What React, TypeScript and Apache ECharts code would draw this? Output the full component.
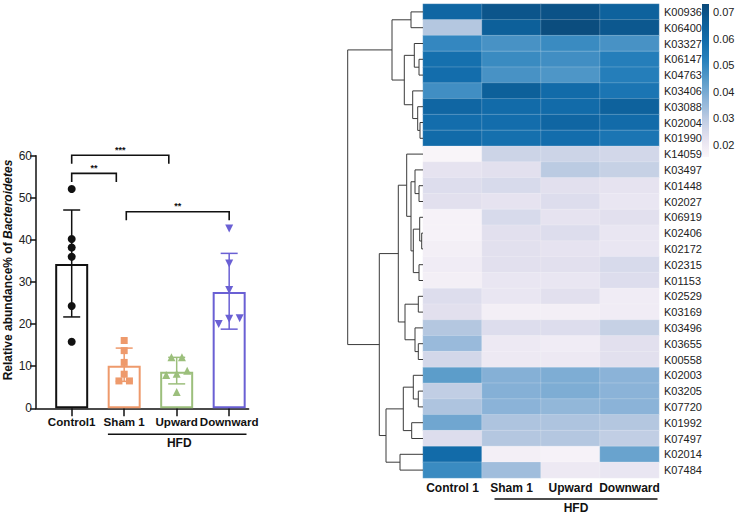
import React, { useEffect, useRef } from 'react';
import * as echarts from 'echarts';

// ---------- Left panel: bar chart ----------
const barGroups = ['Control1', 'Sham 1', 'Upward', 'Downward'];
const barMeans = [34.3, 10.1, 8.7, 27.6];
const errLow = [21.7, 6.4, 5.8, 18.8];
const errHigh = [47.1, 14.3, 12.1, 36.8];
const controlPoints = [52.1, 40.2, 38.2, 36.0, 24.3, 15.8];
const shamPoints = [16.1, 13.7, 10.9, 8.1, 6.5, 6.5];
const upwardPoints = [12.1, 12.1, 8.9, 8.2, 7.9, 3.9];
const downwardPoints = [42.7, 34.4, 28.1, 21.4, 21.3, 20.0];
const brackets = [
  { from: 0, to: 2, y: 60.1, label: '***' },
  { from: 0, to: 1, y: 55.8, label: '**' },
  { from: 1, to: 3, y: 46.7, label: '**' },
];

// ---------- Right panel: heatmap ----------
const heatCols = ['Control 1', 'Sham 1', 'Upward', 'Downward'];
const heatRows = [
  'K00936', 'K06400', 'K03327', 'K06147', 'K04763', 'K03406', 'K03088', 'K02004', 'K01990', 'K14059',
  'K03497', 'K01448', 'K02027', 'K06919', 'K02406', 'K02172', 'K02315', 'K01153', 'K02529', 'K03169',
  'K03496', 'K03655', 'K00558', 'K02003', 'K03205', 'K07720', 'K01992', 'K07497', 'K02014', 'K07484',
];
const heatControl = [
  0.062, 0.031, 0.050, 0.058, 0.059, 0.048, 0.062, 0.059, 0.060, 0.016,
  0.022, 0.024, 0.023, 0.017, 0.017, 0.018, 0.019, 0.018, 0.024, 0.023,
  0.031, 0.035, 0.026, 0.044, 0.029, 0.032, 0.041, 0.024, 0.060, 0.049,
];
const heatSham = [
  0.069, 0.065, 0.047, 0.049, 0.047, 0.065, 0.060, 0.059, 0.058, 0.027,
  0.023, 0.025, 0.022, 0.025, 0.023, 0.023, 0.023, 0.021, 0.021, 0.018,
  0.024, 0.020, 0.020, 0.038, 0.038, 0.037, 0.032, 0.031, 0.018, 0.034,
];
const heatUpward = [
  0.070, 0.072, 0.049, 0.048, 0.046, 0.060, 0.060, 0.062, 0.059, 0.027,
  0.030, 0.023, 0.024, 0.022, 0.024, 0.022, 0.023, 0.021, 0.023, 0.018,
  0.024, 0.019, 0.020, 0.039, 0.039, 0.036, 0.032, 0.031, 0.017, 0.020,
];
const heatDownward = [
  0.064, 0.068, 0.047, 0.053, 0.053, 0.056, 0.064, 0.060, 0.056, 0.026,
  0.028, 0.022, 0.021, 0.023, 0.021, 0.021, 0.025, 0.024, 0.019, 0.019,
  0.028, 0.023, 0.023, 0.037, 0.037, 0.037, 0.031, 0.029, 0.042, 0.021,
];
const colorbarTicks = [0.02, 0.03, 0.04, 0.05, 0.06, 0.07];
const colorMin = 0.0155;
const colorMax = 0.073;
const palette = ['#fbf6fa', '#e4e1ef', '#bccbe2', '#8bb3d8', '#5a9cca', '#2a82bd', '#136ead', '#0c5e98', '#0b4a7a'];

// Row dendrogram merges: [left, right, height]; numbers = leaf rows, 'mN' = earlier merge N
const dendroMerges: [number | string, number | string, number][] = [
  [0, 1, 1.2],
  [3, 4, 0.4],
  [2, 'm1', 0.87],
  [7, 8, 0.3],
  [6, 'm3', 0.53],
  [5, 'm4', 1.03],
  ['m2', 'm5', 1.87],
  ['m0', 'm6', 3.1],
  [11, 12, 0.4],
  [10, 'm8', 0.8],
  [14, 15, 0.13],
  [13, 'm10', 0.33],
  [16, 17, 0.4],
  ['m11', 'm12', 0.97],
  ['m9', 'm13', 1.2],
  [9, 'm14', 1.63],
  [18, 19, 0.47],
  [21, 22, 0.47],
  [20, 'm17', 0.8],
  ['m16', 'm18', 1.8],
  ['m15', 'm19', 2.47],
  [24, 25, 0.47],
  [23, 'm21', 0.97],
  [26, 27, 1.13],
  ['m22', 'm23', 1.97],
  [28, 29, 2.3],
  ['m24', 'm25', 3.7],
  ['m20', 'm26', 4.37],
  ['m7', 'm27', 7.53],
];

const barColors = ['#111111', '#ee9a6c', '#9cbf7c', '#6a60d4'];
const FONT = 'Arial, "Liberation Sans", sans-serif';

function jitter(values: number[], cat: number) {
  const idx = values.map((_, i) => i).sort((a, b) => values[a] - values[b]);
  const clusters: number[][] = [];
  let cur = [idx[0]];
  for (let k = 1; k < idx.length; k++) {
    if (values[idx[k]] - values[idx[k - 1]] < 1.5) cur.push(idx[k]);
    else {
      clusters.push(cur);
      cur = [idx[k]];
    }
  }
  clusters.push(cur);
  const out: number[][] = [];
  clusters.forEach((c) => c.forEach((i, k) => out.push([cat + (k - (c.length - 1) / 2) * 0.2, values[i]])));
  return out;
}

function buildDendro() {
  const pos: { y: number; h: number }[] = [];
  const get = (ref: number | string) => {
    if (typeof ref === 'number') return { y: ref, h: 0 };
    return pos[parseInt(ref.slice(1), 10)];
  };
  const links: number[][] = [];
  dendroMerges.forEach(([a, b, h]) => {
    const A = get(a);
    const B = get(b);
    links.push([A.h, A.y, B.h, B.y, h]);
    pos.push({ y: (A.y + B.y) / 2, h });
  });
  return links;
}

export default function App() {
  const ref = useRef<HTMLDivElement>(null);
  useEffect(() => {
    if (!ref.current) return;
    const chart = echarts.init(ref.current, null, { renderer: 'svg' });
    const heatData: number[][] = [];
    const cols = [heatControl, heatSham, heatUpward, heatDownward];
    heatRows.forEach((_, r) => cols.forEach((col, c) => heatData.push([c, r, col[r]])));
    const pointSets = [controlPoints, shamPoints, upwardPoints, downwardPoints];
    const symbols = ['circle', 'rect', 'triangle', 'triangle'];
    const symSizes = [8, 7, 8, 8];
    const symRot = [0, 0, 0, 180];

    const option: any = {
      animation: false,
      textStyle: { fontFamily: FONT },
      grid: [
        { left: 36, top: 155.7, width: 212.6, height: 252.6 },
        { left: 423, top: 4, width: 236, height: 474 },
        { left: 347, top: 4, width: 76, height: 474 },
        { left: 702, top: 4, width: 7, height: 153 },
      ],
      xAxis: [
        {
          gridIndex: 0,
          type: 'value',
          min: -0.68,
          max: 3.37,
          splitLine: { show: false },
          axisLine: { show: true, onZero: false, lineStyle: { color: '#111', width: 1.5 } },
          axisTick: { show: true, length: 8, customValues: [0, 1, 2, 3], lineStyle: { color: '#111', width: 1.5 } },
          axisLabel: {
            customValues: [0, 1, 2, 3],
            formatter: (v: number) => barGroups[Math.round(v)] || '',
            fontWeight: 'bold',
            fontSize: 11.6,
            color: '#111',
            margin: 7,
          },
        },
        {
          gridIndex: 1,
          type: 'category',
          data: heatCols,
          position: 'bottom',
          axisLine: { show: false },
          axisTick: { show: false },
          axisLabel: { interval: 0, fontWeight: 'bold', fontSize: 12, color: '#111', margin: 4 },
        },
        { gridIndex: 2, type: 'value', min: 0, max: 7.6, inverse: true, show: false },
        { gridIndex: 3, type: 'value', show: false, min: 0, max: 1 },
      ],
      yAxis: [
        {
          gridIndex: 0,
          type: 'value',
          min: 0,
          max: 60,
          interval: 10,
          splitLine: { show: false },
          axisLine: { show: true, onZero: false, lineStyle: { color: '#111', width: 1.5 } },
          axisTick: { show: true, length: 6, lineStyle: { color: '#111', width: 1.5 } },
          axisLabel: { fontSize: 12, color: '#222', margin: 4 },
          name: 'Relative abundance% of {i|Bacteroidetes}',
          nameLocation: 'middle',
          nameGap: 22,
          nameTextStyle: {
            fontSize: 12,
            fontWeight: 'bold',
            color: '#111',
            padding: [0, 0, 0, 24],
            rich: { i: { fontSize: 12, fontWeight: 'bold', fontStyle: 'italic', color: '#111' } },
          },
        },
        {
          gridIndex: 1,
          type: 'category',
          data: heatRows,
          inverse: true,
          position: 'right',
          axisLine: { show: false },
          axisTick: { show: false },
          axisLabel: { interval: 0, fontSize: 11, color: '#222', margin: 5 },
        },
        { gridIndex: 2, type: 'value', min: -0.5, max: 29.5, inverse: true, show: false },
        {
          gridIndex: 3,
          type: 'value',
          min: colorMin,
          max: colorMax,
          position: 'right',
          splitLine: { show: false },
          axisLine: { show: false },
          axisTick: { show: false },
          axisLabel: {
            customValues: colorbarTicks,
            formatter: (v: number) => v.toFixed(2),
            fontSize: 11,
            color: '#222',
            margin: 4,
          },
        },
      ],
      visualMap: {
        type: 'continuous',
        show: false,
        min: colorMin,
        max: colorMax,
        seriesIndex: 0,
        dimension: 2,
        inRange: { color: palette },
      },
      series: [
        {
          type: 'heatmap',
          xAxisIndex: 1,
          yAxisIndex: 1,
          data: heatData,
          itemStyle: { borderColor: 'rgba(255,255,255,0.4)', borderWidth: 0.5 },
        },
        {
          type: 'custom',
          xAxisIndex: 2,
          yAxisIndex: 2,
          data: buildDendro(),
          clip: false,
          renderItem: (params: any, api: any) => {
            const hA = api.value(0), yA = api.value(1), hB = api.value(2), yB = api.value(3), h = api.value(4);
            const p1 = api.coord([hA, yA]);
            const p2 = api.coord([h, yA]);
            const p3 = api.coord([h, yB]);
            const p4 = api.coord([hB, yB]);
            return {
              type: 'polyline',
              shape: { points: [p1, p2, p3, p4] },
              style: { stroke: '#3a3a3a', lineWidth: 1, fill: null },
            };
          },
        },
        {
          type: 'custom',
          xAxisIndex: 3,
          yAxisIndex: 3,
          data: [[0, colorMin, 1, colorMax]],
          renderItem: (params: any, api: any) => {
            const p0 = api.coord([api.value(0), api.value(3)]);
            const p1 = api.coord([api.value(2), api.value(1)]);
            const stops = palette
              .slice()
              .reverse()
              .map((c, i) => ({ offset: i / (palette.length - 1), color: c }));
            return {
              type: 'rect',
              shape: { x: p0[0], y: p0[1], width: p1[0] - p0[0], height: p1[1] - p0[1] },
              style: { fill: new echarts.graphic.LinearGradient(0, 0, 0, 1, stops) },
            };
          },
        },
        {
          type: 'bar',
          xAxisIndex: 0,
          yAxisIndex: 0,
          barWidth: 33,
          data: barMeans.map((v, i) => ({
            value: [i, v],
            itemStyle: { color: 'rgba(255,255,255,0)', borderColor: barColors[i], borderWidth: 2 },
          })),
        },
        {
          type: 'custom',
          xAxisIndex: 0,
          yAxisIndex: 0,
          data: barMeans.map((_, i) => [i, errLow[i], errHigh[i]]),
          renderItem: (params: any, api: any) => {
            const x = api.value(0);
            const pLo = api.coord([x, api.value(1)]);
            const pHi = api.coord([x, api.value(2)]);
            const w = 8.5;
            const color = barColors[params.dataIndex];
            const st = { stroke: color, lineWidth: 1.5 };
            return {
              type: 'group',
              children: [
                { type: 'line', shape: { x1: pLo[0], y1: pLo[1], x2: pHi[0], y2: pHi[1] }, style: st },
                { type: 'line', shape: { x1: pHi[0] - w, y1: pHi[1], x2: pHi[0] + w, y2: pHi[1] }, style: st },
                { type: 'line', shape: { x1: pLo[0] - w, y1: pLo[1], x2: pLo[0] + w, y2: pLo[1] }, style: st },
              ],
            };
          },
        },
        ...pointSets.map((pts, g) => ({
          type: 'scatter',
          xAxisIndex: 0,
          yAxisIndex: 0,
          data: jitter(pts, g),
          symbol: symbols[g],
          symbolSize: symSizes[g],
          symbolRotate: symRot[g],
          itemStyle: { color: barColors[g], opacity: 1 },
        })),
        {
          type: 'custom',
          xAxisIndex: 0,
          yAxisIndex: 0,
          clip: false,
          data: brackets.map((b) => [b.from, b.to, b.y]),
          renderItem: (params: any, api: any) => {
            const from = api.value(0), to = api.value(1), y = api.value(2);
            const x1 = from + (from === 0 ? 0 : 0.04);
            const x2 = to - (to === 3 ? 0 : 0.15);
            const a = api.coord([x1, y]);
            const b = api.coord([x2, y]);
            const drop = 8.5;
            return {
              type: 'group',
              children: [
                {
                  type: 'polyline',
                  shape: { points: [[a[0], a[1] + drop], a, b, [b[0], b[1] + drop]] },
                  style: { stroke: '#111', lineWidth: 1.6, fill: null },
                },
                {
                  type: 'text',
                  style: {
                    text: brackets[params.dataIndex].label,
                    x: (a[0] + b[0]) / 2,
                    y: a[1] - 1,
                    align: 'center',
                    verticalAlign: 'bottom',
                    fontSize: 9,
                    fontWeight: 'bold',
                    fill: '#111',
                    fontFamily: FONT,
                  },
                },
              ],
            };
          },
        },
      ],
    };
    chart.setOption(option);

    // Group annotations (HFD) placed from the axes' own scales
    const l1 = chart.convertToPixel({ gridIndex: 0 }, [1 - 0.31, 0]) as number[];
    const l2 = chart.convertToPixel({ gridIndex: 0 }, [3 + 0.33, 0]) as number[];
    const h1 = chart.convertToPixel({ xAxisIndex: 1, yAxisIndex: 1 }, ['Sham 1', heatRows[heatRows.length - 1]]) as number[];
    const h2 = chart.convertToPixel({ xAxisIndex: 1, yAxisIndex: 1 }, ['Downward', heatRows[heatRows.length - 1]]) as number[];
    const cellHalfH = 474 / heatRows.length / 2;
    const heatBottom = h1[1] + cellHalfH;
    const hx1 = h1[0] - 17;
    const hx2 = h2[0] + 28;
    const lineY1 = l1[1] + 26;
    const lineY2 = heatBottom + 21;
    chart.setOption({
      graphic: [
        { type: 'line', shape: { x1: l1[0], y1: lineY1, x2: l2[0], y2: lineY1 }, style: { stroke: '#111', lineWidth: 1.5 } },
        {
          type: 'text',
          x: (l1[0] + l2[0]) / 2 + 2,
          y: lineY1 + 3,
          style: { text: 'HFD', align: 'center', verticalAlign: 'top', fontSize: 12, fontWeight: 'bold', fill: '#111', fontFamily: FONT },
        },
        { type: 'line', shape: { x1: hx1, y1: lineY2, x2: hx2, y2: lineY2 }, style: { stroke: '#111', lineWidth: 1.5 } },
        {
          type: 'text',
          x: (hx1 + hx2) / 2,
          y: lineY2 + 3,
          style: { text: 'HFD', align: 'center', verticalAlign: 'top', fontSize: 12, fontWeight: 'bold', fill: '#111', fontFamily: FONT },
        },
      ],
    });
    return () => chart.dispose();
  }, []);
  return <div ref={ref} style={{ position: 'absolute', left: 0, top: 0, width: 743, height: 518, background: '#fff' }} />;
}
